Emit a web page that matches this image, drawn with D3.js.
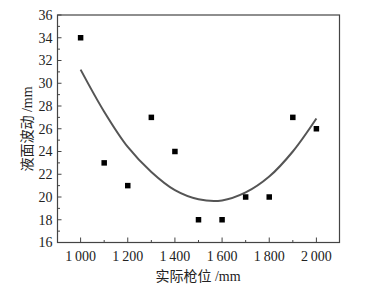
<!DOCTYPE html>
<html>
<head>
<meta charset="utf-8">
<script src="https://cdn.jsdelivr.net/npm/d3@7"></script>
<style>
  body { margin: 0; background: #fff; }
  text { font-family: "Liberation Serif", "Noto Sans CJK SC", serif; fill: #222; }
</style>
</head>
<body>
<svg id="chart"></svg>
<script>
var width = 390;
var height = 285;

// measured points
var positions = [1000, 1100, 1200, 1300, 1400, 1500, 1600, 1700, 1800, 1900, 2000];
var waves = [34, 23, 21, 27, 24, 18, 18, 20, 20, 27, 26];

// fitted curve
var fitX = [1000, 1100, 1200, 1300, 1400, 1500, 1600, 1700, 1800, 1900, 2000];
var fitY = [31.2, 27.5, 24.4, 22.2, 20.6, 19.8, 19.7, 20.4, 21.8, 24.0, 26.9];

var xTicks = [1000, 1200, 1400, 1600, 1800, 2000];
var xMinor = [1100, 1300, 1500, 1700, 1900];
var yTicks = [16, 18, 20, 22, 24, 26, 28, 30, 32, 34, 36];
var yMinor = [17, 19, 21, 23, 25, 27, 29, 31, 33, 35];

var plotLeft = 57.5, plotTop = 15, plotRight = 339.5, plotBottom = 242.5;

var svg = d3.select("#chart")
    .attr("width", width)
    .attr("height", height);

var x = d3.scaleLinear().domain([902, 2098]).range([plotLeft, plotRight]);
var y = d3.scaleLinear().domain([16, 36]).range([plotBottom, plotTop]);

function fmt(d) {
    var s = String(d);
    return s.slice(0, 1) + "\u2009" + s.slice(1);
}

// frame
svg.append("rect")
    .attr("x", plotLeft).attr("y", plotTop)
    .attr("width", plotRight - plotLeft).attr("height", plotBottom - plotTop)
    .attr("fill", "none")
    .attr("stroke", "#444")
    .attr("stroke-width", 1.2);

// x axis ticks (inward)
var xAxis = svg.append("g").attr("transform", "translate(0," + plotBottom + ")");
xAxis.selectAll(".major").data(xTicks).enter().append("line")
    .attr("class", "major")
    .attr("x1", function (d) { return x(d); })
    .attr("x2", function (d) { return x(d); })
    .attr("y1", 0).attr("y2", -5)
    .attr("stroke", "#444");
xAxis.selectAll(".minor").data(xMinor).enter().append("line")
    .attr("class", "minor")
    .attr("x1", function (d) { return x(d); })
    .attr("x2", function (d) { return x(d); })
    .attr("y1", 0).attr("y2", -2.5)
    .attr("stroke", "#444");
xAxis.selectAll("text").data(xTicks).enter().append("text")
    .attr("x", function (d) { return x(d); })
    .attr("y", 18)
    .attr("text-anchor", "middle")
    .style("font-size", "14px")
    .text(fmt);

// y axis ticks (inward)
var yAxis = svg.append("g").attr("transform", "translate(" + plotLeft + ",0)");
yAxis.selectAll(".major").data(yTicks).enter().append("line")
    .attr("class", "major")
    .attr("y1", function (d) { return y(d); })
    .attr("y2", function (d) { return y(d); })
    .attr("x1", 0).attr("x2", 4)
    .attr("stroke", "#444");
yAxis.selectAll(".minor").data(yMinor).enter().append("line")
    .attr("class", "minor")
    .attr("y1", function (d) { return y(d); })
    .attr("y2", function (d) { return y(d); })
    .attr("x1", 0).attr("x2", 2.5)
    .attr("stroke", "#444");
yAxis.selectAll("text").data(yTicks).enter().append("text")
    .attr("x", -5)
    .attr("y", function (d) { return y(d); })
    .attr("dy", "0.35em")
    .attr("text-anchor", "end")
    .style("font-size", "14px")
    .text(function (d) { return d; });

// fitted curve
var line = d3.line()
    .x(function (d) { return x(d); })
    .y(function (d, i) { return y(fitY[i]); })
    .curve(d3.curveCatmullRom);

svg.append("path")
    .datum(fitX)
    .attr("d", line)
    .attr("fill", "none")
    .attr("stroke", "#555")
    .attr("stroke-width", 2);

// points
svg.selectAll(".pt").data(positions).enter().append("rect")
    .attr("class", "pt")
    .attr("x", function (d) { return x(d) - 2.75; })
    .attr("y", function (d, i) { return y(waves[i]) - 2.75; })
    .attr("width", 5.5)
    .attr("height", 5.5)
    .attr("fill", "#000");

// axis titles
svg.append("text")
    .attr("x", 198)
    .attr("y", 281)
    .attr("text-anchor", "middle")
    .style("font-size", "14px")
    .text("实际枪位 /mm");

svg.append("text")
    .attr("transform", "translate(32,129) rotate(-90)")
    .attr("text-anchor", "middle")
    .style("font-size", "14px")
    .text("液面波动 /mm");
</script>
</body>
</html>
